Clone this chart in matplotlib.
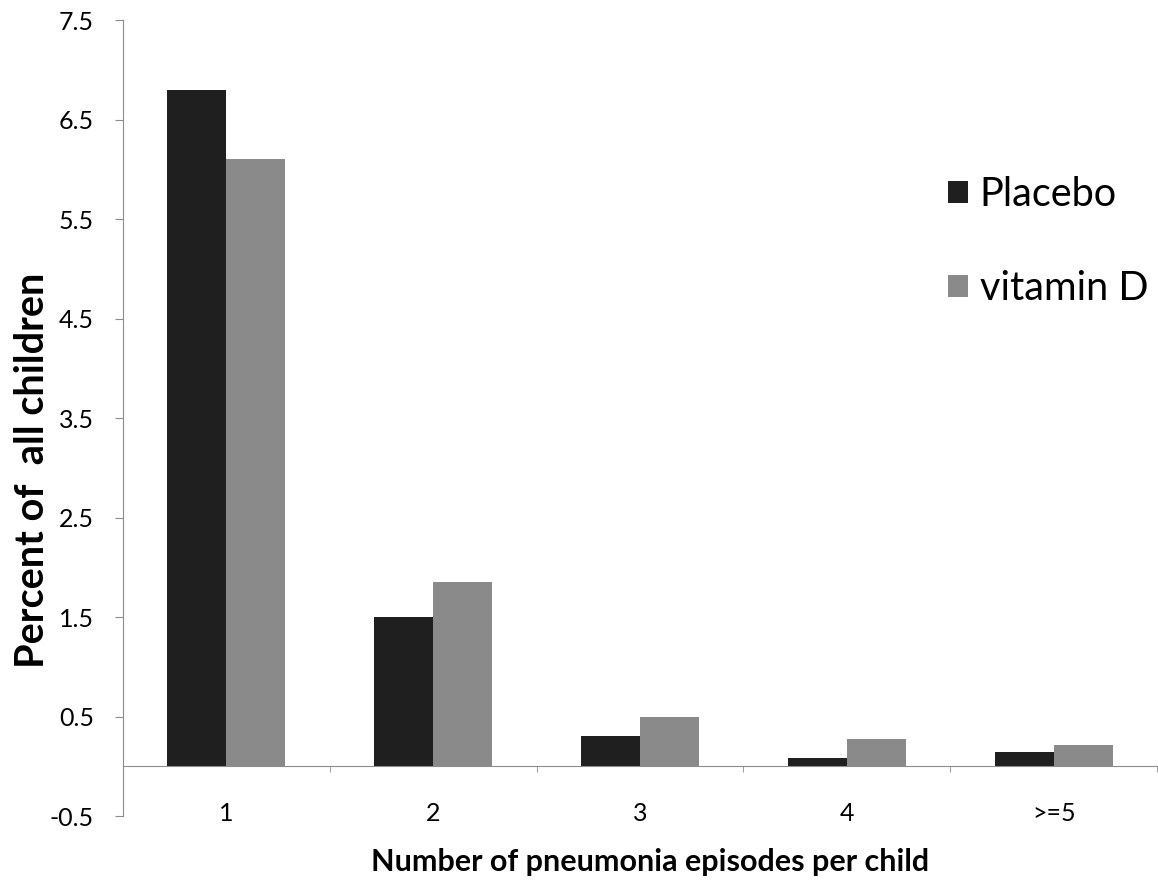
import matplotlib
matplotlib.use("Agg")
import matplotlib.pyplot as plt
import numpy as np

categories = ["1", "2", "3", "4", ">=5"]
placebo = [6.8, 1.5, 0.30, 0.08, 0.14]
vitamin_d = [6.1, 1.85, 0.50, 0.27, 0.21]
yticks = [-0.5, 0.5, 1.5, 2.5, 3.5, 4.5, 5.5, 6.5, 7.5]

plt.rcParams['font.family'] = ['Lato', 'DejaVu Sans']

fig = plt.figure(figsize=(11.58, 8.88), dpi=100)
ax = fig.add_axes([123/1158, 1-816/888, 1034/1158, 796/888])

x = np.arange(len(categories))
w = 0.285
ax.bar(x - w/2, placebo, width=w, color="#1f1f1f", label="Placebo", zorder=3)
ax.bar(x + w/2, vitamin_d, width=w, color="#8a8a8a", label="vitamin D", zorder=3)

ax.set_xlim(-0.5, len(categories) - 0.5)
ax.set_ylim(-0.5, 7.5)
ax.set_yticks(yticks)
ax.set_yticklabels([f"{v:.1f}" for v in yticks])

axis_col = "#8c8c8c"
for s in ["top", "right"]:
    ax.spines[s].set_visible(False)
ax.spines["bottom"].set_position(("data", 0))
ax.spines["bottom"].set_color(axis_col)
ax.spines["left"].set_color(axis_col)
ax.spines["bottom"].set_zorder(4)

ax.set_xticks(x)
ax.set_xticklabels(categories)
ax.set_xticks(np.arange(len(categories) + 1) - 0.5, minor=True)
ax.tick_params(axis="x", which="major", length=0, pad=26, labelsize=18)
ax.tick_params(axis="x", which="minor", length=4.5, direction="out", color=axis_col)
ax.tick_params(axis="y", length=6, direction="out", color=axis_col, pad=15, labelsize=18)

ax.set_ylabel("Percent of  all children", fontsize=28.5, fontweight="bold")
ax.yaxis.set_label_coords(-0.088, 0.434)
ax.yaxis.label.set_va("center")
ax.set_xlabel("Number of pneumonia episodes per child", fontsize=22, fontweight="bold")
ax.xaxis.set_label_coords(0.51, -0.058)
ax.xaxis.label.set_va("center")

leg = ax.legend(loc="upper left", bbox_to_anchor=((932-123)/1034, (816-160)/796),
                frameon=False, fontsize=28.5, handlelength=0.5, handleheight=0.5,
                handletextpad=0.3, labelspacing=1.45, borderaxespad=0)

fig.savefig("out.png", dpi=100, facecolor="white")
